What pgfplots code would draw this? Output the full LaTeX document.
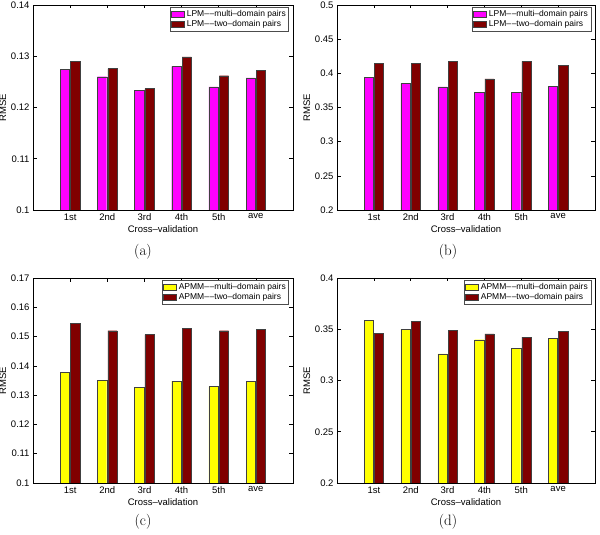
\documentclass[border=0pt]{standalone}
\usepackage{pgfplots}
\pgfplotsset{compat=1.18}
\usepackage{fontspec}
\newfontfamily\hv{Liberation Sans}
\definecolor{mag}{RGB}{255,0,255}
\definecolor{dred}{RGB}{128,0,0}
\definecolor{yel}{RGB}{255,255,0}
\newcommand{\dd}{–\kern0.7pt–}
\pgfplotsset{
  rmse/.style={
    scale only axis,
    xmin=0, xmax=7,
    xtick={1,2,3,4,5,6},
    xticklabels={1st,2nd,3rd,4th,5th,ave},
    tick align=inside,
    xtick pos=both, ytick pos=both,
    xticklabel pos=lower, yticklabel pos=left,
    major tick length=3.5pt,
    minor tick num=0,
    axis line style={line width=0.8pt},
    every tick/.style={black, line width=0.6pt},
    ylabel={RMSE},
    xlabel={Cross–validation},
    tick label style={font=\hv\fontsize{9.5}{10.5}\selectfont},
    label style={font=\hv\fontsize{9.5}{10.5}\selectfont},
    xlabel style={yshift=2pt},
    ylabel style={yshift=-2pt},
    /pgf/number format/assume math mode=true,
    scaled y ticks=false,
    yticklabel style={/pgf/number format/fixed, /pgf/number format/precision=2},
    legend cell align=left,
    legend style={at={(0.985,0.99)}, anchor=north east,
      font=\hv\fontsize{8.5}{9}\selectfont, draw=black!70, line width=0.6pt,
      inner sep=1pt, row sep=-1.5pt, fill=white},
  },
  mybar/.style={ybar, bar width=0.25, draw=black!75, line width=0.4pt,
    legend image code/.code={\draw[##1, line width=0.4pt] (0pt,-3pt) rectangle (13pt,3pt);}},
}
\begin{document}
\begin{tikzpicture}
\path[use as bounding box] (0pt,0pt) rectangle (600pt,535pt);

% (a)
\begin{axis}[rmse, at={(33pt,325pt)}, anchor=south west, width=260pt, height=205pt,
  ymin=0.1, ymax=0.14, ytick={0.1,0.11,0.12,0.13,0.14}]
\addplot[mybar, bar shift=-0.14, fill=mag] coordinates {(1,0.1275) (2,0.1260) (3,0.1233) (4,0.1280) (5,0.1240) (6,0.1258)};
\addplot[mybar, bar shift=0.14, fill=dred] coordinates {(1,0.1290) (2,0.1276) (3,0.1237) (4,0.1299) (5,0.1262) (6,0.1273)};
\legend{LPM\dd multi–domain pairs, LPM\dd two–domain pairs}
\end{axis}

% (b)
\begin{axis}[rmse, at={(337pt,325pt)}, anchor=south west, width=258pt, height=205pt,
  ymin=0.2, ymax=0.5, ytick={0.2,0.25,0.3,0.35,0.4,0.45,0.5}]
\addplot[mybar, bar shift=-0.14, fill=mag] coordinates {(1,0.3937) (2,0.3850) (3,0.3800) (4,0.3722) (5,0.3722) (6,0.3805)};
\addplot[mybar, bar shift=0.14, fill=dred] coordinates {(1,0.4150) (2,0.4150) (3,0.4176) (4,0.3920) (5,0.4176) (6,0.4112)};
\legend{LPM\dd multi–domain pairs, LPM\dd two–domain pairs}
\end{axis}

% (c)
\begin{axis}[rmse, at={(33pt,52pt)}, anchor=south west, width=260pt, height=205pt,
  ymin=0.1, ymax=0.17, ytick={0.1,0.11,0.12,0.13,0.14,0.15,0.16,0.17}]
\addplot[mybar, bar shift=-0.14, fill=yel] coordinates {(1,0.1379) (2,0.1350) (3,0.1327) (4,0.1348) (5,0.1329) (6,0.1348)};
\addplot[mybar, bar shift=0.14, fill=dred] coordinates {(1,0.1545) (2,0.1520) (3,0.1507) (4,0.1527) (5,0.1520) (6,0.1524)};
\legend{APMM\dd multi–domain pairs, APMM\dd two–domain pairs}
\end{axis}

% (d)
\begin{axis}[rmse, at={(337pt,52pt)}, anchor=south west, width=258pt, height=205pt,
  ymin=0.2, ymax=0.4, ytick={0.2,0.25,0.3,0.35,0.4}]
\addplot[mybar, bar shift=-0.14, fill=yel] coordinates {(1,0.3587) (2,0.3502) (3,0.3259) (4,0.3398) (5,0.3317) (6,0.3411)};
\addplot[mybar, bar shift=0.14, fill=dred] coordinates {(1,0.3460) (2,0.3574) (3,0.3486) (4,0.3454) (5,0.3424) (6,0.3480)};
\legend{APMM\dd multi–domain pairs, APMM\dd two–domain pairs}
\end{axis}

\node[font=\fontsize{15}{17}\selectfont] at (143pt,283pt) {(a)};
\node[font=\fontsize{15}{17}\selectfont] at (448pt,283pt) {(b)};
\node[font=\fontsize{15}{17}\selectfont] at (143pt,13pt) {(c)};
\node[font=\fontsize{15}{17}\selectfont] at (448pt,13pt) {(d)};
\end{tikzpicture}
\end{document}
